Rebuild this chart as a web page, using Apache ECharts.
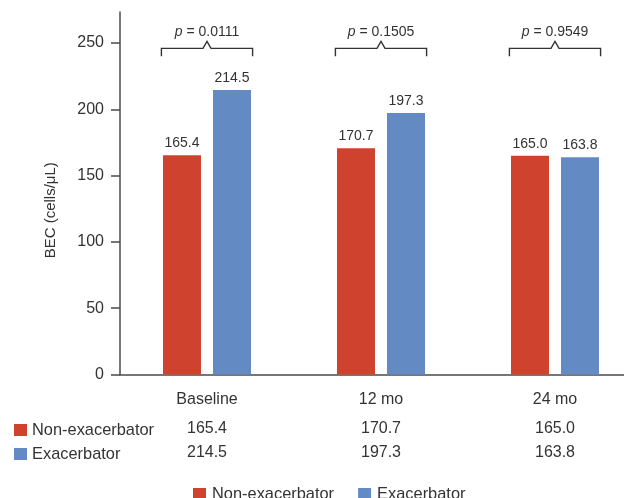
<!DOCTYPE html>
<html>
<head>
<meta charset="utf-8">
<script src="https://cdn.jsdelivr.net/npm/echarts@6/dist/echarts.min.js"></script>
<style>
html,body{margin:0;padding:0;background:#fff;}
#chart{width:624px;height:498px;}
</style>
</head>
<body>
<div id="chart"></div>
<script>
const categories = ['Baseline', '12 mo', '24 mo'];
const nonExacerbator = [165.4, 170.7, 165.0];
const exacerbator = [214.5, 197.3, 163.8];
const pValues = ['0.0111', '0.1505', '0.9549'];
const bracketLevel = [246, 246, 246];
const yTicks = [0, 50, 100, 150, 200, 250];
const seriesNames = ['Non-exacerbator', 'Exacerbator'];

const RED = '#CF432E';
const BLUE = '#648AC3';
const TXT = '#333333';
const AX = '#4a4a4a';
const FONT = 'Liberation Sans';

const chart = echarts.init(document.getElementById('chart'), null, {renderer: 'canvas'});

function tableAxis(values, offset) {
  return {
    type: 'category',
    data: categories,
    gridIndex: 0,
    position: 'bottom',
    offset: offset,
    axisLine: {show: false, onZero: false},
    axisTick: {show: false},
    axisLabel: {
      margin: 17,
      fontSize: 16,
      fontFamily: FONT,
      color: TXT,
      formatter: function (v, i) { return values[i].toFixed(1); }
    }
  };
}

const option = {
  animation: false,
  backgroundColor: '#ffffff',
  grid: {left: 120, top: 12, width: 522, height: 362.5, containLabel: false, outerBoundsMode: 'none'},
  legend: [
    {
      data: seriesNames,
      left: 193,
      top: 486,
      padding: 0,
      icon: 'rect',
      itemWidth: 13,
      itemHeight: 12,
      itemGap: 24,
      selectedMode: false,
      textStyle: {fontSize: 16.4, fontFamily: FONT, color: TXT, padding: [0, 0, 0, 1]}
    },
    {
      data: seriesNames,
      orient: 'vertical',
      left: 14,
      top: 422,
      padding: 0,
      icon: 'rect',
      itemWidth: 13,
      itemHeight: 12,
      itemGap: 8,
      selectedMode: false,
      textStyle: {fontSize: 16.4, fontFamily: FONT, color: TXT}
    }
  ],
  xAxis: [
    {
      type: 'category',
      data: categories,
      position: 'bottom',
      axisLine: {lineStyle: {color: AX, width: 1.5}},
      axisTick: {alignWithLabel: true, length: 10, lineStyle: {color: AX, width: 1.5}},
      axisLabel: {margin: 17, fontSize: 16, fontFamily: FONT, color: TXT}
    },
    tableAxis(nonExacerbator, 29),
    tableAxis(exacerbator, 53)
  ],
  yAxis: {
    type: 'value',
    min: 0,
    max: 273.4,
    interval: 50,
    name: 'BEC (cells/μL)',
    nameLocation: 'middle',
    nameGap: 62,
    nameTextStyle: {fontSize: 15, fontFamily: FONT, color: TXT, padding: [0, 34, 0, 0]},
    splitLine: {show: false},
    axisLine: {show: true, lineStyle: {color: AX, width: 1.5}},
    axisTick: {show: true, length: 9, customValues: yTicks, lineStyle: {color: AX, width: 1.5}},
    axisLabel: {margin: 16, fontSize: 16, fontFamily: FONT, color: TXT, customValues: yTicks}
  },
  series: [
    {
      name: seriesNames[0],
      type: 'bar',
      data: nonExacerbator,
      barWidth: 38,
      barGap: '31.6%',
      itemStyle: {color: RED},
      label: {show: true, position: 'top', distance: 5, fontSize: 14, fontFamily: FONT, color: TXT,
        formatter: function (p) { return p.value.toFixed(1); }}
    },
    {
      name: seriesNames[1],
      type: 'bar',
      data: exacerbator,
      barWidth: 38,
      barGap: '31.6%',
      itemStyle: {color: BLUE},
      label: {show: true, position: 'top', distance: 5, fontSize: 14, fontFamily: FONT, color: TXT,
        formatter: function (p) { return p.value.toFixed(1); }}
    },
    {
      name: 'brackets',
      type: 'custom',
      silent: true,
      z: 10,
      encode: {x: 0, y: 1},
      data: bracketLevel.map(function (v, i) { return [i, v]; }),
      renderItem: function (params, api) {
        const idx = api.value(0);
        const c = api.coord([idx, api.value(1)]);
        const bw = api.size([1, 0])[0];
        const half = bw * 0.262;
        const x0 = c[0] - half, x1 = c[0] + half, y = c[1], cx = c[0];
        return {
          type: 'group',
          children: [
            {
              type: 'polyline',
              shape: {points: [[x0, y + 8], [x0, y], [cx - 4, y], [cx, y - 7], [cx + 4, y], [x1, y], [x1, y + 8]]},
              style: {stroke: '#333', lineWidth: 1.4, fill: null}
            },
            {
              type: 'text',
              style: {
                text: '{i|p} = ' + pValues[idx],
                x: cx,
                y: y - 16,
                align: 'center',
                verticalAlign: 'middle',
                fill: TXT,
                fontSize: 14,
                fontFamily: FONT,
                rich: {i: {fontStyle: 'italic', fontSize: 14, fontFamily: FONT, fill: TXT}}
              }
            }
          ]
        };
      }
    }
  ]
};

chart.setOption(option);
</script>
</body>
</html>
